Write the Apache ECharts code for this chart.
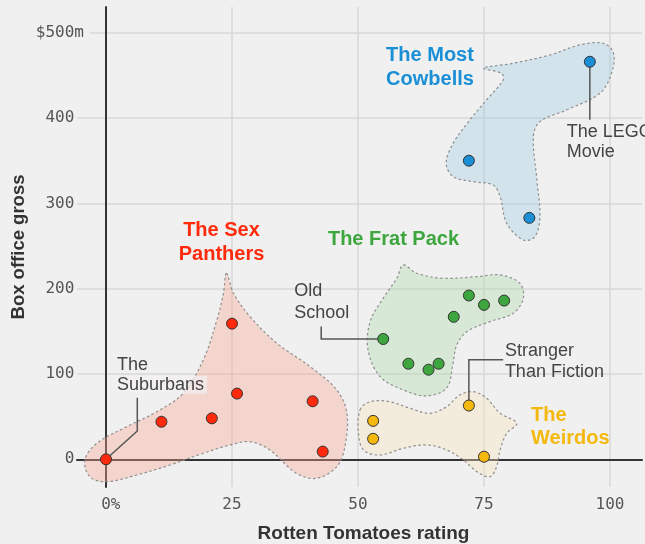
<!DOCTYPE html>
<html>
<head>
<meta charset="utf-8">
<script src="https://cdn.jsdelivr.net/npm/echarts@6/dist/echarts.min.js"></script>
<style>
html,body{margin:0;padding:0;background:#f0f0f0;}
#c{width:645px;height:544px;}
</style>
</head>
<body>
<div id="c"></div>
<script>
// ---- data ----
const xTicks = [0, 25, 50, 75, 100];
const xTickLabels = ['0%', '25', '50', '75', '100'];
const yTicks = [0, 100, 200, 300, 400, 500];
const yTickLabels = ['0', '100', '200', '300', '400', '$500m'];

// [Rotten Tomatoes rating, box office gross ($m)]
const cowbells = [[96, 466], [72, 350], [84, 283]];
const sexPanthers = [[0, 0], [11, 44], [21, 48], [25, 159], [26, 77], [41, 68], [43, 9]];
const fratPack = [[72, 192], [75, 181], [79, 186], [69, 167], [55, 141], [60, 112], [64, 105], [66, 112]];
const weirdos = [[53, 45], [53, 24], [72, 63], [75, 3]];

// blob outlines (data units)
const cowbellsBlob = [[74.9,458.4],[78.5,452.5],[78.8,444.7],[75.5,421.2],[72.2,397.8],[68.9,370.5],[67.5,347],[68.9,331.3],[72.9,325.4],[76.8,321.5],[78.2,307.9],[79.5,276.7],[82.8,257.1],[85.1,261],[86.1,284.4],[85.5,327.4],[84.8,378.2],[86.1,395.8],[91.4,409.5],[98.0,429.1],[100.3,452.5],[100.7,476],[98.7,487.7],[94.0,485.7],[88.1,474],[80.8,464.2]];
const sexPanthersBlob = [[23.9,218.1],[25.3,194.6],[28.6,167.2],[33.9,136],[40.5,108.6],[45.8,81.2],[47.8,53.9],[47.4,14.8],[45.8,-8.7],[41.8,-22.3],[37.8,-16.4],[32.5,10.9],[28.6,20.6],[24.6,16.8],[19.3,7],[12.7,-6.7],[6.1,-18.4],[0.1,-26.3],[-3.2,-20.4],[-4.2,-0.8],[-1.8,18.8],[4.1,38.2],[10.1,55.8],[15.3,77.4],[19.3,116.4],[22.0,163.3],[23.3,194.6]];
const fratPackBlob = [[59.0,227.8],[61.6,218.1],[66.9,212.2],[73.6,214.1],[78.2,216.1],[82.1,206.3],[82.8,188.7],[80.8,171.2],[76.2,161.4],[71.6,149.6],[69.6,134],[68.8,110.6],[67.6,83.6],[63.6,74.3],[59.0,81.3],[54.4,96.8],[52.0,128.1],[52.4,161.3],[55.0,188.7],[57.7,212.2]];
const weirdosBlob = [[50.4,57.8],[52.4,67.5],[56.3,67.5],[60.3,59.8],[64.3,53.9],[67.6,61.7],[70.2,75.4],[72.9,79.2],[75.5,71.5],[78.2,53.9],[81.5,42.2],[79.5,30.5],[78.2,10.9],[77.5,-8.7],[76.2,-20.4],[73.6,-14.5],[70.9,-0.8],[67.6,10.9],[63.6,16.8],[59.0,12.9],[54.4,5.0],[51.1,10.9],[50.1,30.5]];

const groupNames = ['The Most\nCowbells', 'The Sex\nPanthers', 'The Frat Pack', 'The\nWeirdos'];
const filmNotes = ['The LEGO\nMovie', 'The\nSuburbans', 'Old\nSchool', 'Stranger\nThan Fiction'];
const filmNoteFor = [cowbells[0], sexPanthers[0], fratPack[4], weirdos[2]];

// ---- styles ----
const BLUE = '#1a8fd6', RED = '#ff2a0c', GREEN = '#3ea63e', YELLOW = '#f5b80c';
const MONO = '"DejaVu Sans Mono", monospace';
const SANS = '"Liberation Sans", Arial, sans-serif';

// annotation layout in pixel offsets from the labelled point
const noteLayout = [
  { path: [[0, 5], [0, 58]], tx: -23, ty: 61, lh: 19.5, bgLine: -1 },
  { path: [[0, 0], [31.3, -28.3], [31.3, -61.6]], tx: 11, ty: -105.5, lh: 22, bgLine: 1 },
  { path: [[-5.5, 0], [-62, 0], [-62, -12.6]], tx: -89, ty: -58.5, lh: 21.5, bgLine: -1 },
  { path: [[0, -5.5], [0, -45.7], [34.3, -45.7]], tx: 36, ty: -64.7, lh: 21, bgLine: -1 }
];

function blobSeries(outline, fill) {
  return {
    type: 'custom', silent: true, z: 2,
    data: [[outline[0][0], outline[0][1]]],
    renderItem: function (params, api) {
      const pts = outline.map(p => api.coord(p));
      return {
        type: 'polygon',
        shape: { points: pts, smooth: 0.35 },
        style: { fill: fill, stroke: '#8e8e8e', lineWidth: 1.2, lineDash: [2.5, 2.5] }
      };
    }
  };
}

function scatterSeries(data, color) {
  return {
    type: 'scatter', data: data, symbolSize: 11, silent: true, z: 4,
    itemStyle: { color: color, borderColor: '#333', borderWidth: 1, opacity: 1 }
  };
}

const annotationSeries = {
  type: 'custom', silent: true, z: 3,
  data: filmNoteFor.map(p => [p[0], p[1]]),
  renderItem: function (params, api) {
    const i = params.dataIndex;
    const c = api.coord(filmNoteFor[i]);
    const L = noteLayout[i];
    const pts = L.path.map(o => [c[0] + o[0], c[1] + o[1]]);
    const children = [
      { type: 'polyline', shape: { points: pts }, style: { stroke: '#555', lineWidth: 1.5, fill: null } }
    ];
    filmNotes[i].split('\n').forEach(function (line, k) {
      const st = {
        text: line, x: c[0] + L.tx, y: c[1] + L.ty + k * L.lh,
        fill: '#444', font: '18px ' + SANS, lineHeight: L.lh,
        textAlign: 'left', textVerticalAlign: 'top'
      };
      if (k === L.bgLine) {
        st.backgroundColor = 'rgba(242,240,240,0.72)';
        st.padding = [-2, 3, -2, 0];
      }
      children.push({ type: 'text', style: st });
    });
    return { type: 'group', children: children };
  }
};

function findIdx(arr, v) {
  for (let i = 0; i < arr.length; i++) if (Math.abs(arr[i] - v) < 1e-6) return i;
  return -1;
}

const chart = echarts.init(document.getElementById('c'), null, { renderer: 'canvas' });
chart.setOption({
  backgroundColor: '#f0f0f0',
  animation: false,
  grid: { left: 77, right: 3, top: 7, bottom: 57, containLabel: false, outerBoundsMode: 'none' },
  xAxis: {
    type: 'value', min: -5.754, max: 106.35, minInterval: 25, maxInterval: 25, splitNumber: 4,
    name: 'Rotten Tomatoes rating', nameLocation: 'middle', nameGap: 37, nameMoveOverlap: false,
    nameTextStyle: { fontFamily: SANS, fontSize: 19, fontWeight: 'bold', color: '#333', padding: [0, 0, 0, 8] },
    axisLine: { onZero: true, lineStyle: { color: '#333', width: 2 } },
    axisTick: { show: false },
    axisLabel: {
      margin: 10, fontFamily: MONO, fontSize: 16, color: '#555',
      formatter: function (v) {
        const i = findIdx(xTicks, v);
        if (i < 0) return '';
        const lab = xTickLabels[i];
        return /%$/.test(lab) ? '\u00a0' + lab : lab;
      }
    },
    splitLine: { show: true, showMinLine: false, showMaxLine: false, lineStyle: { color: '#d8d8d8', width: 1.5 } }
  },
  yAxis: {
    type: 'value', min: -32.5, max: 530.2, minInterval: 100, maxInterval: 100, splitNumber: 5,
    name: 'Box office gross', nameLocation: 'middle', nameGap: 49, nameMoveOverlap: false,
    nameTextStyle: { fontFamily: SANS, fontSize: 18.5, fontWeight: 'bold', color: '#333' },
    axisLine: { onZero: true, lineStyle: { color: '#333', width: 2 } },
    axisTick: { show: false },
    axisLabel: {
      margin: -13, fontFamily: MONO, fontSize: 16, color: '#555',
      formatter: function (v) {
        const i = findIdx(yTicks, v);
        if (i < 0) return '';
        const lab = yTickLabels[i];
        return /m$/.test(lab) ? '{b|' + lab + '}' : '{a|' + lab + '\u00a0}';
      },
      rich: {
        a: { fontFamily: MONO, fontSize: 16, color: '#555', padding: [0, 6, 0, 0] },
        b: { fontFamily: MONO, fontSize: 16, color: '#555', padding: [2, 6, 2, 2], backgroundColor: '#f0f0f0' }
      }
    },
    splitLine: { show: true, showMinLine: false, showMaxLine: false, lineStyle: { color: '#d8d8d8', width: 1.5 } }
  },
  graphic: [
    { type: 'text', x: 430, y: 67, z: 10, style: { text: groupNames[0], fill: BLUE, font: 'bold 20px ' + SANS, textAlign: 'center', textVerticalAlign: 'middle', lineHeight: 24 } },
    { type: 'text', x: 221.5, y: 242, z: 10, style: { text: groupNames[1], fill: RED, font: 'bold 20px ' + SANS, textAlign: 'center', textVerticalAlign: 'middle', lineHeight: 24 } },
    { type: 'text', x: 393.5, y: 239, z: 10, style: { text: groupNames[2], fill: GREEN, font: 'bold 20px ' + SANS, textAlign: 'center', textVerticalAlign: 'middle', lineHeight: 24 } },
    { type: 'text', x: 531, y: 426.5, z: 10, style: { text: groupNames[3], fill: YELLOW, font: 'bold 20px ' + SANS, textAlign: 'left', textVerticalAlign: 'middle', lineHeight: 23 } }
  ],
  series: [
    blobSeries(cowbellsBlob, 'rgba(163,206,229,0.38)'),
    blobSeries(sexPanthersBlob, 'rgba(246,169,149,0.38)'),
    blobSeries(fratPackBlob, 'rgba(177,217,171,0.38)'),
    blobSeries(weirdosBlob, 'rgba(246,226,186,0.38)'),
    annotationSeries,
    scatterSeries(cowbells, BLUE),
    scatterSeries(sexPanthers, RED),
    scatterSeries(fratPack, GREEN),
    scatterSeries(weirdos, YELLOW)
  ]
});
</script>
</body>
</html>
